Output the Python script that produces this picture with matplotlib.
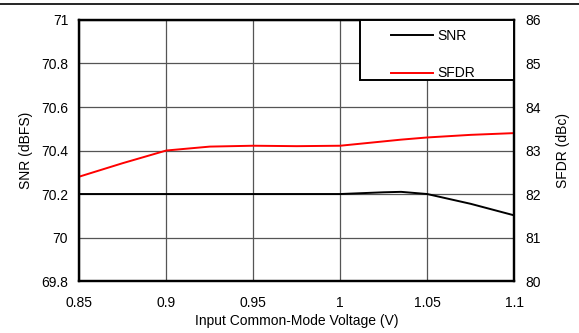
import matplotlib
matplotlib.use("Agg")
import matplotlib.pyplot as plt
from matplotlib.lines import Line2D
from matplotlib.patches import Rectangle

plt.rcParams['font.family'] = ['Liberation Sans', 'DejaVu Sans']

## ------------ data -----------
vcm = [0.85, 0.875, 0.9, 0.925, 0.95, 0.975, 1.0, 1.025, 1.035, 1.05, 1.075, 1.1]
snr = [70.2, 70.2, 70.2, 70.2, 70.2, 70.2, 70.2, 70.208, 70.21, 70.2, 70.155, 70.102]
sfdr = [82.4, 82.71, 83.0, 83.09, 83.11, 83.1, 83.11, 83.21, 83.25, 83.3, 83.36, 83.4]

fs = 10

## ------------ plot -----------
fig, ax = plt.subplots(figsize=(5.79, 3.33), dpi=100)
fig.subplots_adjust(left=0.137, right=0.888, top=0.94, bottom=0.156)
ax2 = ax.twinx()

ax.plot(vcm, snr, color='black', lw=1.4)
ax2.plot(vcm, sfdr, color='red', lw=1.4)

ax.set_xlim(0.85, 1.1)
ax.set_ylim(69.8, 71)
ax2.set_ylim(80, 86)
ax.set_xticks([0.85, 0.9, 0.95, 1.0, 1.05, 1.1], labels=['0.85', '0.9', '0.95', '1', '1.05', '1.1'])
ax.set_yticks([69.8, 70, 70.2, 70.4, 70.6, 70.8, 71], labels=['69.8', '70', '70.2', '70.4', '70.6', '70.8', '71'])
ax2.set_yticks([80, 81, 82, 83, 84, 85, 86])

ax.grid(True, color='#555555', lw=0.9)
ax.tick_params(axis='x', length=0, labelsize=fs, pad=11)
ax.tick_params(axis='y', length=0, labelsize=fs, pad=8)
ax2.tick_params(length=0, labelsize=fs, pad=8)
for a in (ax, ax2):
    for s in a.spines.values():
        s.set_linewidth(1.6)

ax.set_xlabel('Input Common-Mode Voltage (V)', fontsize=fs)
ax.set_ylabel('SNR (dBFS)', fontsize=fs)
ax2.set_ylabel('SFDR (dBc)', fontsize=fs)
ax.xaxis.set_label_coords(0.5, -0.128)
ax.yaxis.set_label_coords(-0.107, 0.5)
ax2.yaxis.set_label_coords(1.096, 0.5)

# legend box
ax2.add_patch(Rectangle((0.646, 0.77), 0.354, 0.23, transform=ax2.transAxes, facecolor='white',
                        edgecolor='black', lw=1.4, zorder=4, clip_on=False))
handles = [Line2D([], [], color='black', lw=1.4), Line2D([], [], color='red', lw=1.4)]
leg = ax2.legend(handles, ['SNR', 'SFDR'], loc='upper left', bbox_to_anchor=(0.717, 0.966),
                 fontsize=fs, frameon=False, borderpad=0, borderaxespad=0, handlelength=3.0,
                 labelspacing=1.7, handletextpad=0.3)
leg.set_zorder(5)

fig.add_artist(Line2D([0, 1], [0.9865, 0.9865], color='black', lw=1.2, transform=fig.transFigure))

fig.savefig('out.png', dpi=100)
